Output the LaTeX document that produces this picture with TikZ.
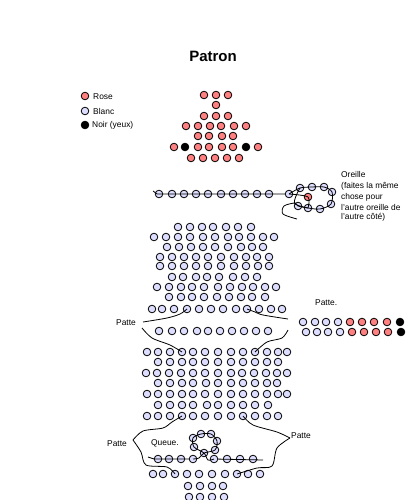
\documentclass[tikz,border=0pt]{standalone}
\usepackage{fontspec}
\setmainfont{Liberation Sans}
\definecolor{beadblue}{HTML}{DDDDFF}
\definecolor{beadrose}{HTML}{FF8080}
\tikzset{
  beadw/.style={circle,draw=black,line width=0.8pt,fill=beadblue,inner sep=0pt,minimum size=7.6pt},
  beadr/.style={circle,draw=black,line width=0.8pt,fill=beadrose,inner sep=0pt,minimum size=7.6pt},
  beadk/.style={circle,draw=black,line width=0.8pt,fill=black,inner sep=0pt,minimum size=7.6pt},
  strand/.style={draw=black,line width=0.8pt},
  lbl/.style={font=\fontsize{8.4}{9}\selectfont,inner sep=0pt,anchor=west},
  ttl/.style={font=\fontsize{15}{17}\selectfont\bfseries,inner sep=0pt}
}
\newcommand{\beadrow}[3]{\foreach \px in {#3} \node[#2] (b\px-#1) at (\px,#1) {};}
\begin{document}
\begin{tikzpicture}[x=1pt,y=-1pt]
\useasboundingbox (0,0) rectangle (407,500);
\fill[white] (0,0) rectangle (407,500);
\node[ttl] (title) at (213,56) {Patron};
% legend
\node[beadr] (lr) at (85,96) {};
\node[beadw] (lw) at (85,111) {};
\node[beadk] (lk) at (85,125) {};
\node[lbl] (tr) at (93,97) {Rose};
\node[lbl] (tw) at (93,111) {Blanc};
\node[lbl] (tk) at (92,125) {Noir (yeux)};
% head
\beadrow{95}{beadr}{204,216,228}
\beadrow{105}{beadr}{216}
\beadrow{116}{beadr}{204,216,228}
\beadrow{126}{beadr}{186,198,210,221,234,246}
\beadrow{136}{beadr}{198,209,222,233}
\beadrow{147}{beadr}{174,198,209,222,233,258}
\beadrow{147}{beadk}{185,246}
\beadrow{158}{beadr}{191,203,215,227,239}
% ear
\beadrow{194}{beadw}{159,172,184,196,208,221,233,245,257,269,289}
\node[beadw] (e1) at (300,188) {};
\node[beadw] (e2) at (312,187) {};
\node[beadw] (e3) at (324,187) {};
\node[beadw] (e4) at (332,192) {};
\node[beadw] (e5) at (331,204) {};
\node[beadw] (e6) at (320,209) {};
\node[beadw] (e7) at (308,208) {};
\node[beadw] (e8) at (298,206) {};
\node[beadr] (er) at (308,197) {};
\coordinate (es) at (153,191);
\coordinate (ee) at (297,219);
\draw[strand] (es) -- (157,194) -- (b289-194);
\draw[strand] plot[smooth] coordinates {(b289-194) (e1) (e2) (e3) (e4) (e5) (e6) (e7) (e8) (295,203) (284,206) (283,214) (ee)};
\draw[strand] plot[smooth] coordinates {(e1) (296,196) (295,204) (e7)};
\draw[strand] plot[smooth] coordinates {(b289-194) (er) (e7)};
\node[lbl] (o1) at (341,174) {Oreille};
\node[lbl] (o2) at (341,186) {(faites la même};
\node[lbl] (o3) at (341,197) {chose pour};
\node[lbl] (o4) at (341,207) {l'autre oreille de};
\node[lbl] (o5) at (341,217) {l'autre côté)};
% body
\beadrow{227}{beadw}{178,190,202,213,226,238,251}
\beadrow{237}{beadw}{154,166,178,190,203,215,228,239,251,263,274}
\beadrow{247}{beadw}{167,179,191,203,215,228,241,252,263}
\beadrow{257}{beadw}{160,172,184,196,208,221,234,246,257,269}
\beadrow{266}{beadw}{160,172,184,196,208,221,234,246,258,269}
\beadrow{277}{beadw}{172,183,196,207,219,233,245,257}
\beadrow{287}{beadw}{157,169,181,192,204,218,230,242,253,265,276}
\beadrow{297}{beadw}{169,181,192,204,217,229,241,252,265}
\beadrow{309}{beadw}{152,162,174,187,199,211,223,236,247,259,271,282}
\beadrow{331}{beadw}{159,172,184,197,208,220,232,244,256,268}
\beadrow{352}{beadw}{147,158,170,182,193,205,218,231,243,255,267,278,287}
\beadrow{362}{beadw}{158,170,182,193,205,218,231,243,255,267,278}
\beadrow{373}{beadw}{146,157,169,181,193,205,218,231,242,254,266,277,287}
\beadrow{383}{beadw}{158,170,182,193,206,218,231,243,255,267,277}
\beadrow{394}{beadw}{147,158,170,182,193,205,218,231,243,255,267,278,287}
\beadrow{405}{beadw}{158,170,182,193,207,218,231,243,255,268}
\beadrow{416}{beadw}{147,158,170,182,193,205,218,231,243,255,267,278}
\beadrow{474}{beadw}{153,163,175,187,199,212,225,237,248,260}
\beadrow{486}{beadw}{188,200,212,223}
\beadrow{497}{beadw}{189,200,212,224}
% right leg
\beadrow{322}{beadw}{303,315,326,338}
\beadrow{322}{beadr}{350,362,374,387}
\beadrow{322}{beadk}{400}
\beadrow{332}{beadw}{306,317,328,340}
\beadrow{332}{beadr}{352,364,376,388}
\beadrow{332}{beadk}{401}
% tail
\beadrow{459}{beadw}{158,169,181,193,214,227,240,253}
\node[beadw] (q1) at (193,438) {};
\node[beadw] (q2) at (201,434) {};
\node[beadw] (q3) at (211,434) {};
\node[beadw] (q4) at (217,441) {};
\node[beadw] (q5) at (215,450) {};
\node[beadw] (q6) at (204,453) {};
\node[beadw] (q7) at (194,447) {};
\coordinate (qa) at (148,457);
\coordinate (qb) at (263,460);
\draw[strand] (qa) -- (154,459) -- (b193-459);
\draw[strand] (b214-459) -- (qb);
\draw[strand] plot[smooth] coordinates {(b193-459) (199,458) (q6) (q5) (q4) (q3) (q2) (q1) (q7) (q6) (208,460) (b214-459)};
% leg threads
\coordinate (pa) at (143,322);
\coordinate (pb) at (288,319);
\coordinate (pc) at (142,328);
\coordinate (pd) at (288,330);
\coordinate (pe) at (133,440);
\coordinate (pf) at (290,438);
\draw[strand] plot[smooth] coordinates {(pa) (167,318) (180,314) (b187-309)};
\draw[strand] plot[smooth] coordinates {(b247-309) (255,312) (263,315) (pb)};
\draw[strand] plot[smooth] coordinates {(pc) (152,338) (170,345) (b182-352)};
\draw[strand] plot[smooth] coordinates {(b255-352) (267,342) (282,338) (pd)};
\draw[strand] plot[smooth] coordinates {(pe) (143,431) (163,428) (172,422) (b182-416)};
\draw[strand] plot[smooth] coordinates {(b243-416) (253,425) (277,432) (pf)};
\draw[strand] plot[smooth] coordinates {(pe) (141,452) (146,465) (167,467) (b175-474)};
\draw[strand] plot[smooth] coordinates {(b237-474) (257,468) (272,466) (277,448) (pf)};
% labels
\node[lbl] (p1) at (315,303) {Patte.};
\node[lbl] (p2) at (116,323) {Patte};
\node[lbl] (p3) at (107,444) {Patte};
\node[lbl] (p4) at (151,443) {Queue.};
\node[lbl] (p5) at (291,436) {Patte};
\end{tikzpicture}
\end{document}
